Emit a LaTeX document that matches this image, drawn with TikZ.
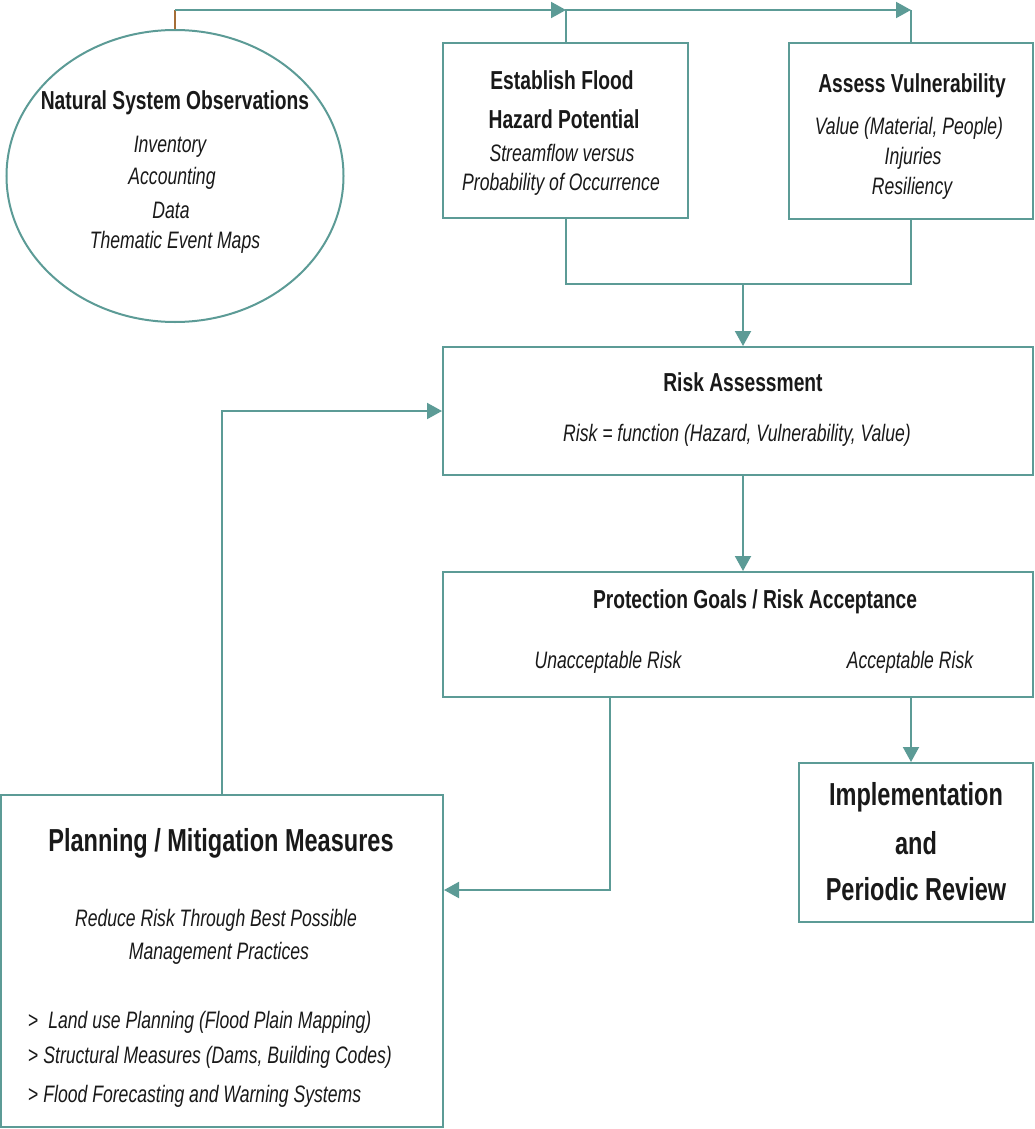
\documentclass[tikz,border=0pt]{standalone}
\usepackage{fontspec}
\setmainfont{Liberation Sans}[FakeStretch=0.74]
\usetikzlibrary{arrows.meta,shapes.geometric}
\definecolor{tealc}{RGB}{92,155,150}
\definecolor{txt}{RGB}{25,25,25}
\definecolor{brn}{RGB}{165,110,55}
\tikzset{
  box/.style={draw=tealc, line width=2pt, inner sep=0pt},
  conn/.style={draw=tealc, line width=2pt},
  arr/.style={-{Triangle[length=15pt,width=16pt]}},
  ttl/.style={font=\fontsize{26}{30}\selectfont\bfseries, text=txt, inner sep=0pt},
  big/.style={font=\fontsize{31.8}{36}\selectfont\bfseries, text=txt, inner sep=0pt},
  it/.style={font=\fontsize{23.8}{28}\selectfont\itshape, text=txt, inner sep=0pt},
}
\begin{document}
\begin{tikzpicture}[x=1pt,y=-1pt]
\useasboundingbox (0,0) rectangle (1034,1129);
% shapes
\node[box, ellipse, minimum width=337pt, minimum height=292pt] (nat) at (175,176) {};
\node[box, minimum width=245pt, minimum height=175pt] (est) at (565.5,130.5) {};
\node[box, minimum width=244pt, minimum height=176pt] (ass) at (911,131) {};
\node[box, minimum width=590pt, minimum height=128pt] (risk) at (738,411) {};
\node[box, minimum width=590pt, minimum height=125pt] (prot) at (738,634.5) {};
\node[box, minimum width=234pt, minimum height=159pt] (impl) at (916,842.5) {};
\node[box, minimum width=442pt, minimum height=332pt] (plan) at (222,961) {};
% texts
\node[ttl] (t1) at (175,103) {Natural System Observations};
\node[it] (t2) at (170,147) {Inventory};
\node[it] (t3) at (172,178) {Accounting};
\node[it] (t4) at (171,210) {Data};
\node[it] (t5) at (175,242) {Thematic Event Maps};
\node[ttl] (e1) at (562,80) {Establish Flood};
\node[ttl] (e2) at (564,119) {Hazard Potential};
\node[it] (e3) at (562,153) {Streamflow versus};
\node[it] (e4) at (561,184) {Probability of Occurrence};
\node[ttl] (a1) at (912,86) {Assess Vulnerability};
\node[it] (a2) at (909,128) {Value (Material, People)};
\node[it] (a3) at (913,158) {Injuries};
\node[it] (a4) at (912,188) {Resiliency};
\node[ttl] (r1) at (743,382) {Risk Assessment};
\node[it] (r2) at (737,435) {Risk = function (Hazard, Vulnerability, Value)};
\node[ttl] (p1) at (755,602) {Protection Goals / Risk Acceptance};
\node[it] (p2) at (608,662) {Unacceptable Risk};
\node[it] (p3) at (910,662) {Acceptable Risk};
\node[big] (i1) at (916,797) {Implementation};
\node[big] (i2) at (916,843) {and};
\node[big] (i3) at (916,889) {Periodic Review};
\node[big] (m1) at (221,843) {Planning / Mitigation Measures};
\node[it] (m2) at (216,920) {Reduce Risk Through Best Possible};
\node[it] (m3) at (219,953) {Management Practices};
\node[it, anchor=west] (m4) at (28,1022) {\upshape>\itshape\ \ Land use Planning (Flood Plain Mapping)};
\node[it, anchor=west] (m5) at (28,1057) {\upshape>\itshape\ Structural Measures (Dams, Building Codes)};
\node[it, anchor=west] (m6) at (28,1096) {\upshape>\itshape\ Flood Forecasting and Warning Systems};
% connectors
\coordinate (top) at (175,10);
\coordinate (j1) at (566,10);
\coordinate (j2) at (911,10);
\coordinate (mid) at (743,284);
\coordinate (lx) at (610,890);
\coordinate (rx) at (911,700);
\draw[brn, line width=1.2pt] (nat.north) -- (top);
\draw[conn, arr] (top) -- (j1);
\draw[conn, arr] (est.north) |- (j2);
\draw[conn] (ass.north) -- (ass.north |- j2);
\draw[conn] (est.south) |- (mid) -| (ass.south);
\draw[conn, arr] (mid) -- (mid |- risk.north);
\draw[conn, arr] (risk.south -| mid) -- (prot.north -| mid);
\draw[conn, arr] (prot.south -| lx) |- (plan.east |- lx);
\draw[conn, arr] (prot.south -| rx) -- (impl.north -| rx);
\draw[conn, arr] (plan.north) |- (risk.west);
\end{tikzpicture}
\end{document}
